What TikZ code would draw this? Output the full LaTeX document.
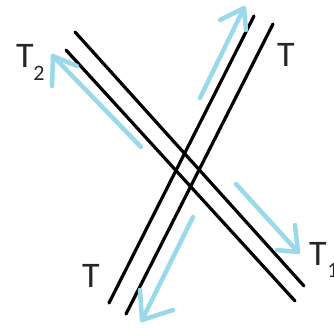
\documentclass[tikz,border=0pt]{standalone}
\usepackage{fontspec}
\setmainfont{Carlito}
\definecolor{paintblue}{RGB}{153,217,234}
\begin{document}
\begin{tikzpicture}[x=1pt,y=-1pt,
  rod/.style={draw=black,line width=3.2pt,line cap=round},
  force/.style={draw=paintblue,line width=4.5pt,line cap=round,line join=round},
  lab/.style={inner sep=0pt,font=\fontsize{36}{40}\selectfont,text=black!85},
  sublab/.style={inner sep=0pt,font=\fontsize{22}{26}\selectfont,text=black!85}]
\useasboundingbox (0,0) rectangle (334,327);
% rod endpoints
\coordinate (a1) at (75,32);  \coordinate (a2) at (304,286);
\coordinate (b1) at (66,50);  \coordinate (b2) at (295,301);
\coordinate (c1) at (109,303); \coordinate (c2) at (254,16);
\coordinate (d1) at (126,314); \coordinate (d2) at (273,24);
\draw[rod] (a1) -- (a2);
\draw[rod] (b1) -- (b2);
\draw[rod] (c1) -- (c2);
\draw[rod] (d1) -- (d2);
% force arrows
\coordinate (ur0) at (200,98); \coordinate (urt) at (244,8);
\coordinate (urh1) at (220,20); \coordinate (urh2) at (246,30);
\draw[force] (ur0) -- (urt);
\draw[force] (urh1) -- (urt) -- (urh2);
\coordinate (ul0) at (141,147); \coordinate (ult) at (53,56);
\coordinate (ulh1) at (77,66); \coordinate (ulh2) at (52,86);
\draw[force] (ul0) -- (ult);
\draw[force] (ulh1) -- (ult) -- (ulh2);
\coordinate (lr0) at (236,184); \coordinate (lrt) at (298,252);
\coordinate (lrh1) at (295,225); \coordinate (lrh2) at (277,250);
\draw[force] (lr0) -- (lrt);
\draw[force] (lrh1) -- (lrt) -- (lrh2);
\coordinate (ll0) at (193,217); \coordinate (llt) at (142,320);
\coordinate (llh1) at (140,290); \coordinate (llh2) at (173,310);
\draw[force] (ll0) -- (llt);
\draw[force] (llh1) -- (llt) -- (llh2);
% labels
\node[lab] (t2) at (25,56) {T};
\node[sublab] (t2s) at (39,73) {2};
\node[lab] (tr) at (286,55) {T};
\node[lab] (tl) at (91,276) {T};
\node[lab] (t1) at (318,254) {T};
\node[sublab] (t1s) at (333,270) {1};
\end{tikzpicture}
\end{document}
